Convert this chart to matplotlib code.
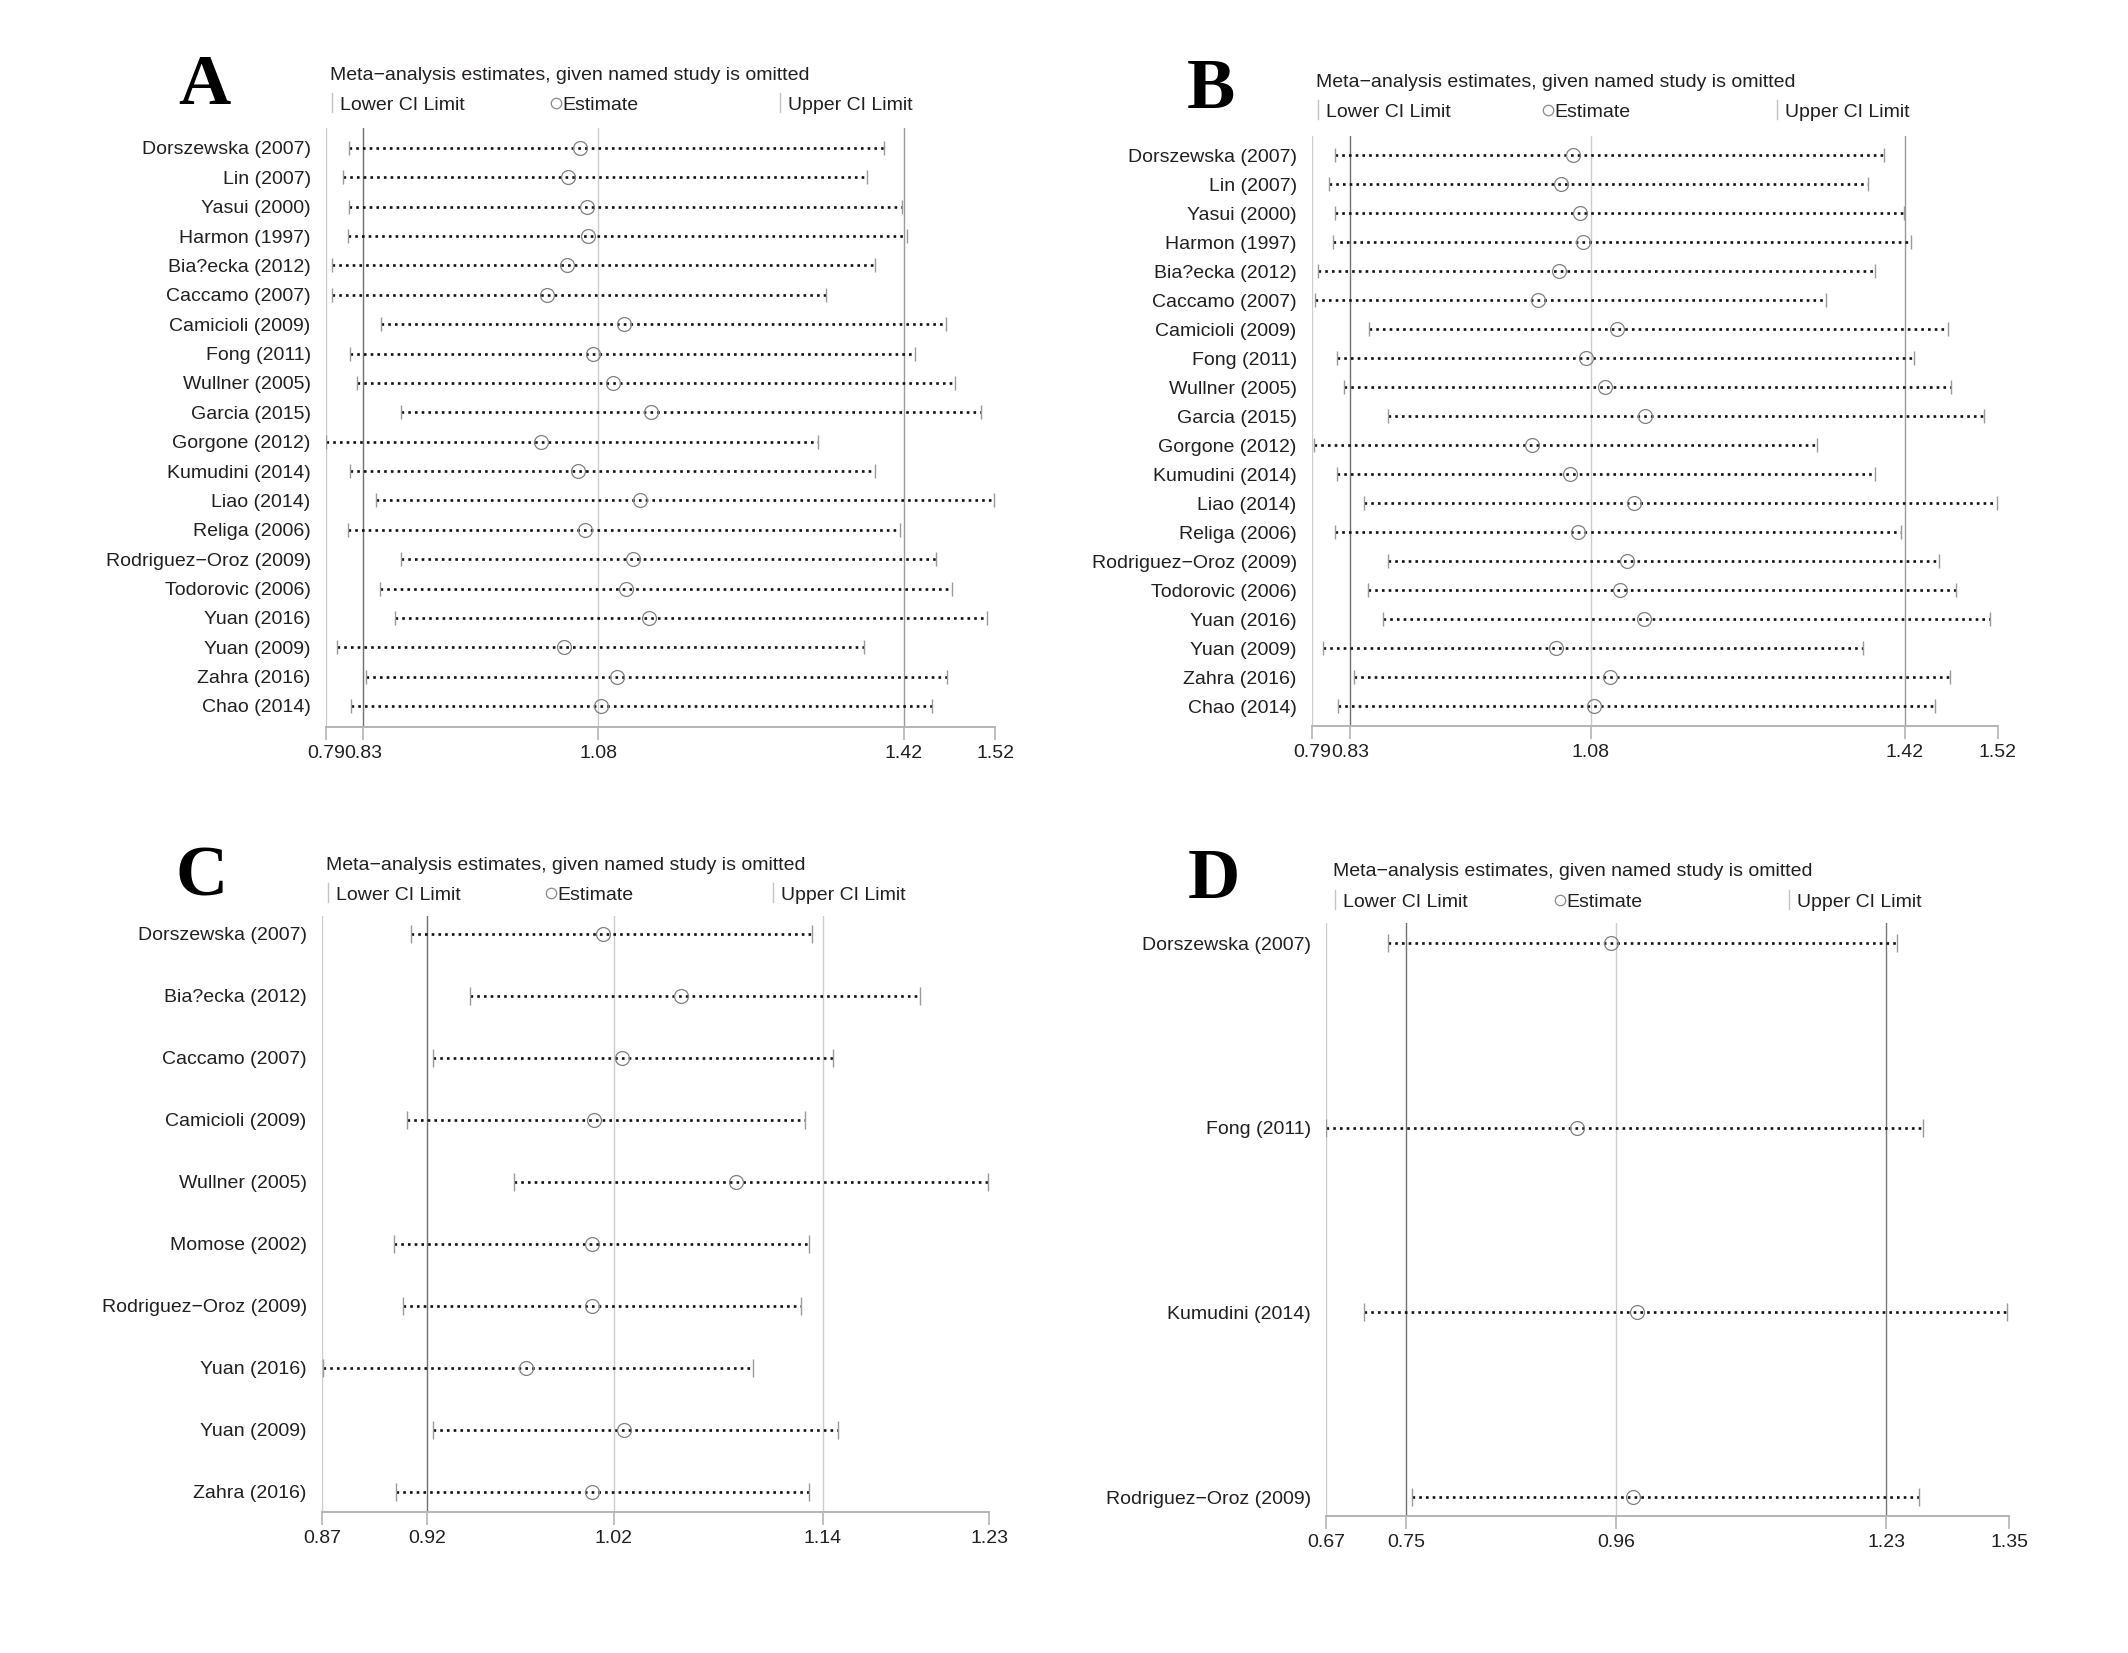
import matplotlib
matplotlib.use('Agg')
import matplotlib.pyplot as plt
from matplotlib.lines import Line2D

W, H, DPI = 2128, 1653, 100
FONT = ['Liberation Sans Narrow', 'Liberation Sans', 'DejaVu Sans']
INK = '#231f20'
FS = 14
plt.rcParams['font.family'] = FONT

# ---------------- data ----------------
studies_ab = ['Dorszewska (2007)', 'Lin (2007)', 'Yasui (2000)', 'Harmon (1997)',
              'Bia?ecka (2012)', 'Caccamo (2007)', 'Camicioli (2009)', 'Fong (2011)',
              'Wullner (2005)', 'Garcia (2015)', 'Gorgone (2012)', 'Kumudini (2014)',
              'Liao (2014)', 'Religa (2006)', 'Rodriguez\u2212Oroz (2009)', 'Todorovic (2006)',
              'Yuan (2016)', 'Yuan (2009)', 'Zahra (2016)', 'Chao (2014)']

a_lower = [0.813, 0.806, 0.813, 0.812, 0.795, 0.794, 0.848, 0.814, 0.822, 0.869,
           0.788, 0.814, 0.842, 0.812, 0.869, 0.847, 0.863, 0.800, 0.832, 0.815]
a_est = [1.064, 1.051, 1.072, 1.073, 1.050, 1.028, 1.112, 1.078, 1.100, 1.141,
         1.022, 1.062, 1.129, 1.070, 1.122, 1.114, 1.139, 1.047, 1.104, 1.087]
a_upper = [1.395, 1.376, 1.414, 1.420, 1.385, 1.331, 1.462, 1.428, 1.472, 1.500,
           1.323, 1.385, 1.514, 1.412, 1.451, 1.469, 1.507, 1.373, 1.463, 1.447]
a_ticks = [0.788, 0.8282, 1.0837, 1.4163, 1.5152]

b_lower = [0.813, 0.806, 0.813, 0.810, 0.794, 0.791, 0.849, 0.815, 0.822, 0.869,
           0.790, 0.815, 0.843, 0.812, 0.869, 0.848, 0.864, 0.800, 0.833, 0.816]
b_est = [1.066, 1.053, 1.073, 1.076, 1.051, 1.028, 1.113, 1.079, 1.100, 1.142,
         1.022, 1.063, 1.131, 1.071, 1.123, 1.116, 1.141, 1.048, 1.105, 1.088]
b_upper = [1.396, 1.379, 1.418, 1.425, 1.387, 1.335, 1.465, 1.428, 1.468, 1.503,
           1.325, 1.387, 1.517, 1.415, 1.455, 1.473, 1.509, 1.374, 1.467, 1.451]
b_ticks = [0.788, 0.8284, 1.0848, 1.4189, 1.5178]

studies_c = ['Dorszewska (2007)', 'Bia?ecka (2012)', 'Caccamo (2007)', 'Camicioli (2009)',
             'Wullner (2005)', 'Momose (2002)', 'Rodriguez\u2212Oroz (2009)', 'Yuan (2016)',
             'Yuan (2009)', 'Zahra (2016)']
c_lower = [0.914, 0.946, 0.926, 0.912, 0.970, 0.905, 0.910, 0.8665, 0.926, 0.906]
c_est = [1.018, 1.060, 1.028, 1.013, 1.090, 1.012, 1.012, 0.976, 1.029, 1.012]
c_upper = [1.131, 1.189, 1.142, 1.127, 1.226, 1.129, 1.125, 1.099, 1.145, 1.129]
c_ticks = [0.866, 0.9228, 1.0238, 1.1368, 1.2265]

studies_d = ['Dorszewska (2007)', 'Fong (2011)', 'Kumudini (2014)', 'Rodriguez\u2212Oroz (2009)']
d_lower = [0.732, 0.670, 0.708, 0.756]
d_est = [0.954, 0.920, 0.980, 0.976]
d_upper = [1.240, 1.266, 1.350, 1.262]
d_ticks = [0.67, 0.7498, 0.9594, 1.2289, 1.3516]

title = 'Meta\u2212analysis estimates, given named study is omitted'

# ---------------- layout (pixel positions in the figure) ----------------
panels = [
    dict(letter='A', studies=studies_ab, lo=a_lower, es=a_est, up=a_upper, ticks=a_ticks,
         x0=326, x1=995, top=128, row0=148, rowN=706, axis=727,
         let_xy=(204, 104), title_y=80, leg_y=110, leg_x=(330, 552, 778),
         up_col='#9a9a9a', cap=13),
    dict(letter='B', studies=studies_ab, lo=b_lower, es=b_est, up=b_upper, ticks=b_ticks,
         x0=1312, x1=1998, top=136, row0=155, rowN=706, axis=726,
         let_xy=(1211, 108), title_y=87, leg_y=117, leg_x=(1316, 1544, 1775),
         up_col='#9a9a9a', cap=13),
    dict(letter='C', studies=studies_c, lo=c_lower, es=c_est, up=c_upper, ticks=c_ticks,
         x0=322, x1=989, top=916, row0=934, rowN=1492, axis=1512,
         let_xy=(202, 896), title_y=870, leg_y=900, leg_x=(326, 547, 771),
         up_col='#cccccc', cap=17),
    dict(letter='D', studies=studies_d, lo=d_lower, es=d_est, up=d_upper, ticks=d_ticks,
         x0=1326, x1=2009, top=923, row0=943, rowN=1497, axis=1516,
         let_xy=(1214, 898), title_y=876, leg_y=907, leg_x=(1333, 1556, 1787),
         up_col='#777777', cap=17),
]

fig = plt.figure(figsize=(W / DPI, H / DPI), dpi=DPI)


def fx(x):
    return x / W


def fy(y):
    return 1 - y / H


for p in panels:
    n = len(p['studies'])
    step = (p['rowN'] - p['row0']) / (n - 1)
    ax = fig.add_axes([fx(p['x0']), fy(p['axis']), (p['x1'] - p['x0']) / W,
                       (p['axis'] - p['top']) / H])
    t = p['ticks']
    ax.set_xlim(t[0], t[-1])
    ax.set_ylim(n - 1 + (p['axis'] - p['rowN']) / step, -(p['row0'] - p['top']) / step)

    # reference lines: axis start, overall lower CI, estimate, upper CI
    for v, c in zip(t[:4], ['#cccccc', '#707070', '#cccccc', p['up_col']]):
        ax.axvline(v, color=c, lw=1.0, zorder=1)

    for i in range(n):
        lo, es, up = p['lo'][i], p['es'][i], p['up'][i]
        ax.plot([lo, up], [i, i], color='#111111', lw=1.9, ls=(0, (1, 1.55)), zorder=2)
        ax.plot([lo, up], [i, i], ls='none', marker='|', ms=p['cap'] * 0.75,
                mew=1.0, color='#9a9a9a', zorder=3)
        ax.plot([es], [i], ls='none', marker='o', ms=10, mfc='none', mec='#808080',
                mew=0.9, zorder=4)

    ax.set_xticks(t)
    ax.set_xticklabels([f'{v:.2f}' for v in t])
    ax.set_yticks(range(n))
    ax.set_yticklabels(p['studies'])
    ax.tick_params(axis='x', direction='out', length=9, width=1.2, color='#b4b4b4',
                   pad=4, labelsize=FS, labelcolor=INK)
    ax.tick_params(axis='y', length=0, pad=11, labelsize=FS, labelcolor=INK)
    for s in ['top', 'right', 'left']:
        ax.spines[s].set_visible(False)
    ax.spines['bottom'].set_color('#b4b4b4')
    ax.spines['bottom'].set_linewidth(1.4)
    ax.patch.set_visible(False)

    # panel letter, header and legend
    lx, ly = p['let_xy']
    fig.text(fx(lx), fy(ly), p['letter'], family='Liberation Serif', weight='bold',
             fontsize=52, color='black', ha='center', va='baseline')
    fig.text(fx(p['leg_x'][0]), fy(p['title_y']), title, fontsize=FS, color=INK,
             va='baseline')
    gy = p['leg_y']
    x_lo, x_es, x_up = p['leg_x']
    for xb in (x_lo, x_up):
        fig.add_artist(Line2D([fx(xb + 2)] * 2, [fy(gy + 2), fy(gy - 17)],
                              transform=fig.transFigure, color='#c4c4c4', lw=1.0))
    fig.text(fx(x_lo + 10), fy(gy), 'Lower CI Limit', fontsize=FS, color=INK, va='baseline')
    fig.add_artist(Line2D([fx(x_es + 4)], [fy(gy - 7)], transform=fig.transFigure,
                          ls='none', marker='o', ms=7.5, mfc='none', mec='#8a8a8a',
                          mew=0.9))
    fig.text(fx(x_es + 10), fy(gy), 'Estimate', fontsize=FS, color=INK, va='baseline')
    fig.text(fx(x_up + 10), fy(gy), 'Upper CI Limit', fontsize=FS, color=INK, va='baseline')

fig.savefig('out.png', dpi=DPI, facecolor='white')
